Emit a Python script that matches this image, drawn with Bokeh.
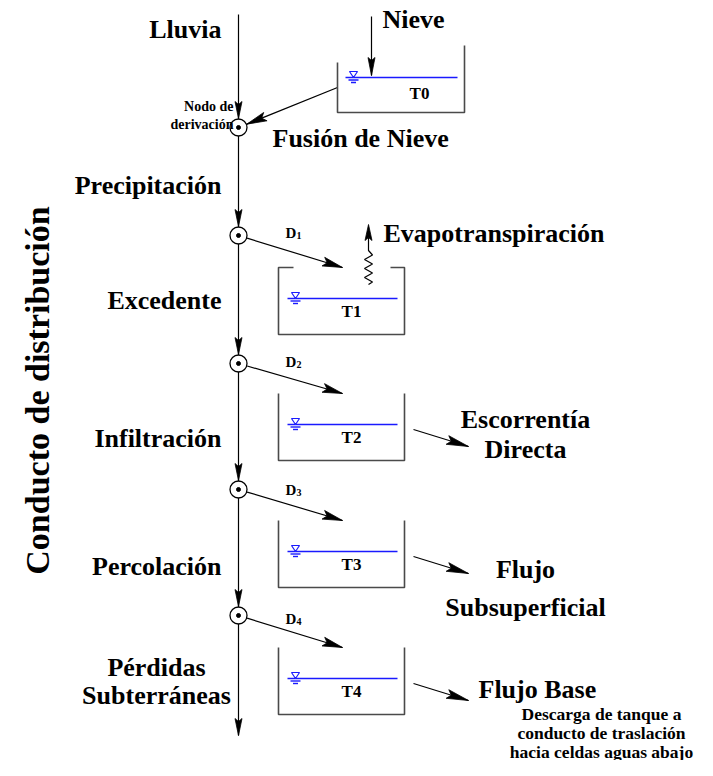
import numpy as np
from bokeh.plotting import figure
from bokeh.models import Range1d
from bokeh.core.properties import value
from bokeh.embed import file_html
from bokeh.resources import INLINE

# ---------------- content (texts) ----------------
side_title = "Conducto de distribución"
left_labels = ["Lluvia", "Precipitación", "Excedente", "Infiltración", "Percolación"]
loss_labels = ["Pérdidas", "Subterráneas"]
node_note = ["Nodo de", "derivación"]
snow_label = "Nieve"
melt_label = "Fusión de Nieve"
evap_label = "Evapotranspiración"
snow_tank_name = "T0"
tank_names = ["T1", "T2", "T3", "T4"]
deriv_names = ["D", "D", "D", "D"]
deriv_subs = ["1", "2", "3", "4"]
outflow_lines = ["Escorrentía", "Directa", "Flujo", "Subsuperficial", "Flujo Base"]
discharge_note = ["Descarga de tanque a", "conducto de traslación", "hacia celdas aguas abajo"]

# ---------------- layout (pixel space of the picture; text y = text middle) ----------------
W, H = 697, 760
MAIN_X = 238
MAIN_TOP, MAIN_BOTTOM = 14, 735
NODE_R = 8.5
node_y = [127, 235, 363, 489, 615]
left_label_y = [29, 185, 300, 438, 566]
LEFT_RIGHT = 221
loss_xy = [(156, 667), (156, 695)]
node_note_xy = [(233, 106), (233, 124)]

T0_L, T0_R, T0_LTOP, T0_RTOP, T0_BOT, T0_W = 337, 464, 62, 45, 112, 77
TL, TR = 278, 404
tank_top = [267, 393, 520, 647]
TANK_DEPTH = 67
WATER_OFF = 31
WL0, WL1 = 287, 397

FONT = value("Liberation Serif")
WALL = "#4a4a4a"
BLUE = "#1a1aff"

p = figure(width=W, height=H, x_range=Range1d(0, W), y_range=Range1d(H, 0),
           output_backend="svg", toolbar_location=None, x_axis_type=None, y_axis_type=None,
           min_border=0)
p.grid.visible = False
p.outline_line_color = None
p.background_fill_color = "white"
p.border_fill_color = "white"

lines_x, lines_y = [], []
heads_x, heads_y = [], []


def head(tx, ty, dx, dy, hl, hw, notch):
    d = np.hypot(dx, dy)
    ux, uy = dx / d, dy / d
    nx, ny = -uy, ux
    bx, by = tx - ux * hl, ty - uy * hl
    heads_x.append([tx, bx + nx * hw, tx - ux * (hl - notch), bx - nx * hw])
    heads_y.append([ty, by + ny * hw, ty - uy * (hl - notch), by - ny * hw])


def arrow(x0, y0, x1, y1, hl=16, hw=3.5, notch=3):
    lines_x.append([x0, x1])
    lines_y.append([y0, y1])
    head(x1, y1, x1 - x0, y1 - y0, hl, hw, notch)


# main conduit
lines_x.append([MAIN_X, MAIN_X])
lines_y.append([MAIN_TOP, MAIN_BOTTOM])
for ny in node_y:
    head(MAIN_X, ny - NODE_R - 0.5, 0, 1, 17, 3.5, 3)
head(MAIN_X, MAIN_BOTTOM, 0, 1, 17, 3.5, 3)

# snow input and melt
arrow(371, 16, 371, 75, 18, 3.5, 3)
vx, vy = T0_L - MAIN_X, 87 - node_y[0]
dd = np.hypot(vx, vy)
arrow(T0_L, 87, MAIN_X + vx / dd * (NODE_R + 0.5), node_y[0] + vy / dd * (NODE_R + 0.5), 20, 4.5, 4)

# derivation arrows
for ny, tt in zip(node_y[1:], tank_top):
    vx, vy = 342 - MAIN_X, tt - ny
    dd = np.hypot(vx, vy)
    x0, y0 = MAIN_X + vx / dd * (NODE_R + 0.5), ny + vy / dd * (NODE_R + 0.5)
    arrow(x0, y0, 342, tt, 20, 4.5, 4)

# outflows
for tt in tank_top[1:]:
    w = tt + WATER_OFF
    arrow(413, w + 5, 468, w + 22, 22, 4.5, 4)

# evapotranspiration zigzag
EX = 368
head(EX, 224, 0, -1, 16, 3.5, 3)
zx = [EX, EX]
zy = [237, 250]
yy = 250
k = 0
while yy < 278:
    yy += 4.5
    zx.append(EX + (4 if k % 2 == 0 else -4))
    zy.append(yy)
    k += 1
zx.append(EX)
zy.append(yy + 2.5)
lines_x.append(zx)
lines_y.append(zy)

p.multi_line(lines_x, lines_y, line_color="black", line_width=1.2)
p.patches(heads_x, heads_y, fill_color="black", line_color="black", line_width=0.8)

# tanks
walls_x = [[T0_L, T0_L, T0_R, T0_R],
           [TL + 15, TL, TL, TR, TR, TR - 14]]
walls_y = [[T0_LTOP, T0_BOT, T0_BOT, T0_RTOP],
           [tank_top[0], tank_top[0], tank_top[0] + TANK_DEPTH, tank_top[0] + TANK_DEPTH,
            tank_top[0], tank_top[0]]]
for tt in tank_top[1:]:
    walls_x.append([TL, TL, TR, TR])
    walls_y.append([tt, tt + TANK_DEPTH, tt + TANK_DEPTH, tt])
p.multi_line(walls_x, walls_y, line_color=WALL, line_width=1.6)

water = [(345, 457, T0_W, 353)] + [(WL0, WL1, tt + WATER_OFF, 295) for tt in tank_top]
wx, wy, tri_x, tri_y = [], [], [], []
for a, b, w, s in water:
    wx.append([a, b]); wy.append([w, w])
    wx.append([s - 5, s + 5]); wy.append([w + 2.5, w + 2.5])
    wx.append([s - 2.5, s + 2.5]); wy.append([w + 5, w + 5])
    tri_x.append([s - 4, s + 4, s]); tri_y.append([w - 6, w - 6, w])
p.multi_line(wx, wy, line_color=BLUE, line_width=1.4)
p.patches(tri_x, tri_y, fill_color="white", line_color=BLUE, line_width=1.2)

# nodes
nx_ = [MAIN_X] * len(node_y)
p.scatter(nx_, node_y, marker="circle", size=2 * NODE_R, fill_color="white",
          line_color="black", line_width=1.3)
p.scatter(nx_, node_y, marker="circle", size=4, fill_color="black", line_color="black")


# texts
def txt(x, y, t, size, align="left"):
    p.text(x=x, y=y, text=t, text_font=FONT, text_font_style="bold",
           text_font_size=size, text_align=align, text_baseline="middle",
           text_color="black")


BIG = "26px"
txt([LEFT_RIGHT] * len(left_labels), left_label_y, left_labels, BIG, "right")
txt([q[0] for q in loss_xy], [q[1] for q in loss_xy], loss_labels, BIG, "center")
txt([q[0] for q in node_note_xy], [q[1] for q in node_note_xy], node_note, "14px", "right")
txt([382], [19], [snow_label], BIG)
txt([272], [138], [melt_label], BIG)
txt([383], [233], [evap_label], BIG)
txt([525, 525, 525, 525], [419, 449, 569, 607], outflow_lines[:4], BIG, "center")
txt([478], [689], outflow_lines[4:], BIG)
txt([601, 601, 601], [713, 732, 751], discharge_note, "17.5px", "center")

# tank names
txt([419], [93], [snow_tank_name], "17px", "center")
txt([351] * 4, [tt + 44 for tt in tank_top], tank_names, "17px", "center")

# derivation labels
d_mid = [232, 361, 489, 618]
txt([285] * 4, d_mid, deriv_names, "15px")
txt([296] * 4, [m + 3 for m in d_mid], deriv_subs, "10px")

# side title
p.text(x=[37], y=[390], text=[side_title], angle=np.pi / 2, text_font=FONT,
       text_font_style="bold", text_font_size="34px", text_align="center",
       text_baseline="middle", text_color="black")

open("out.html", "w").write(file_html(p, INLINE))
